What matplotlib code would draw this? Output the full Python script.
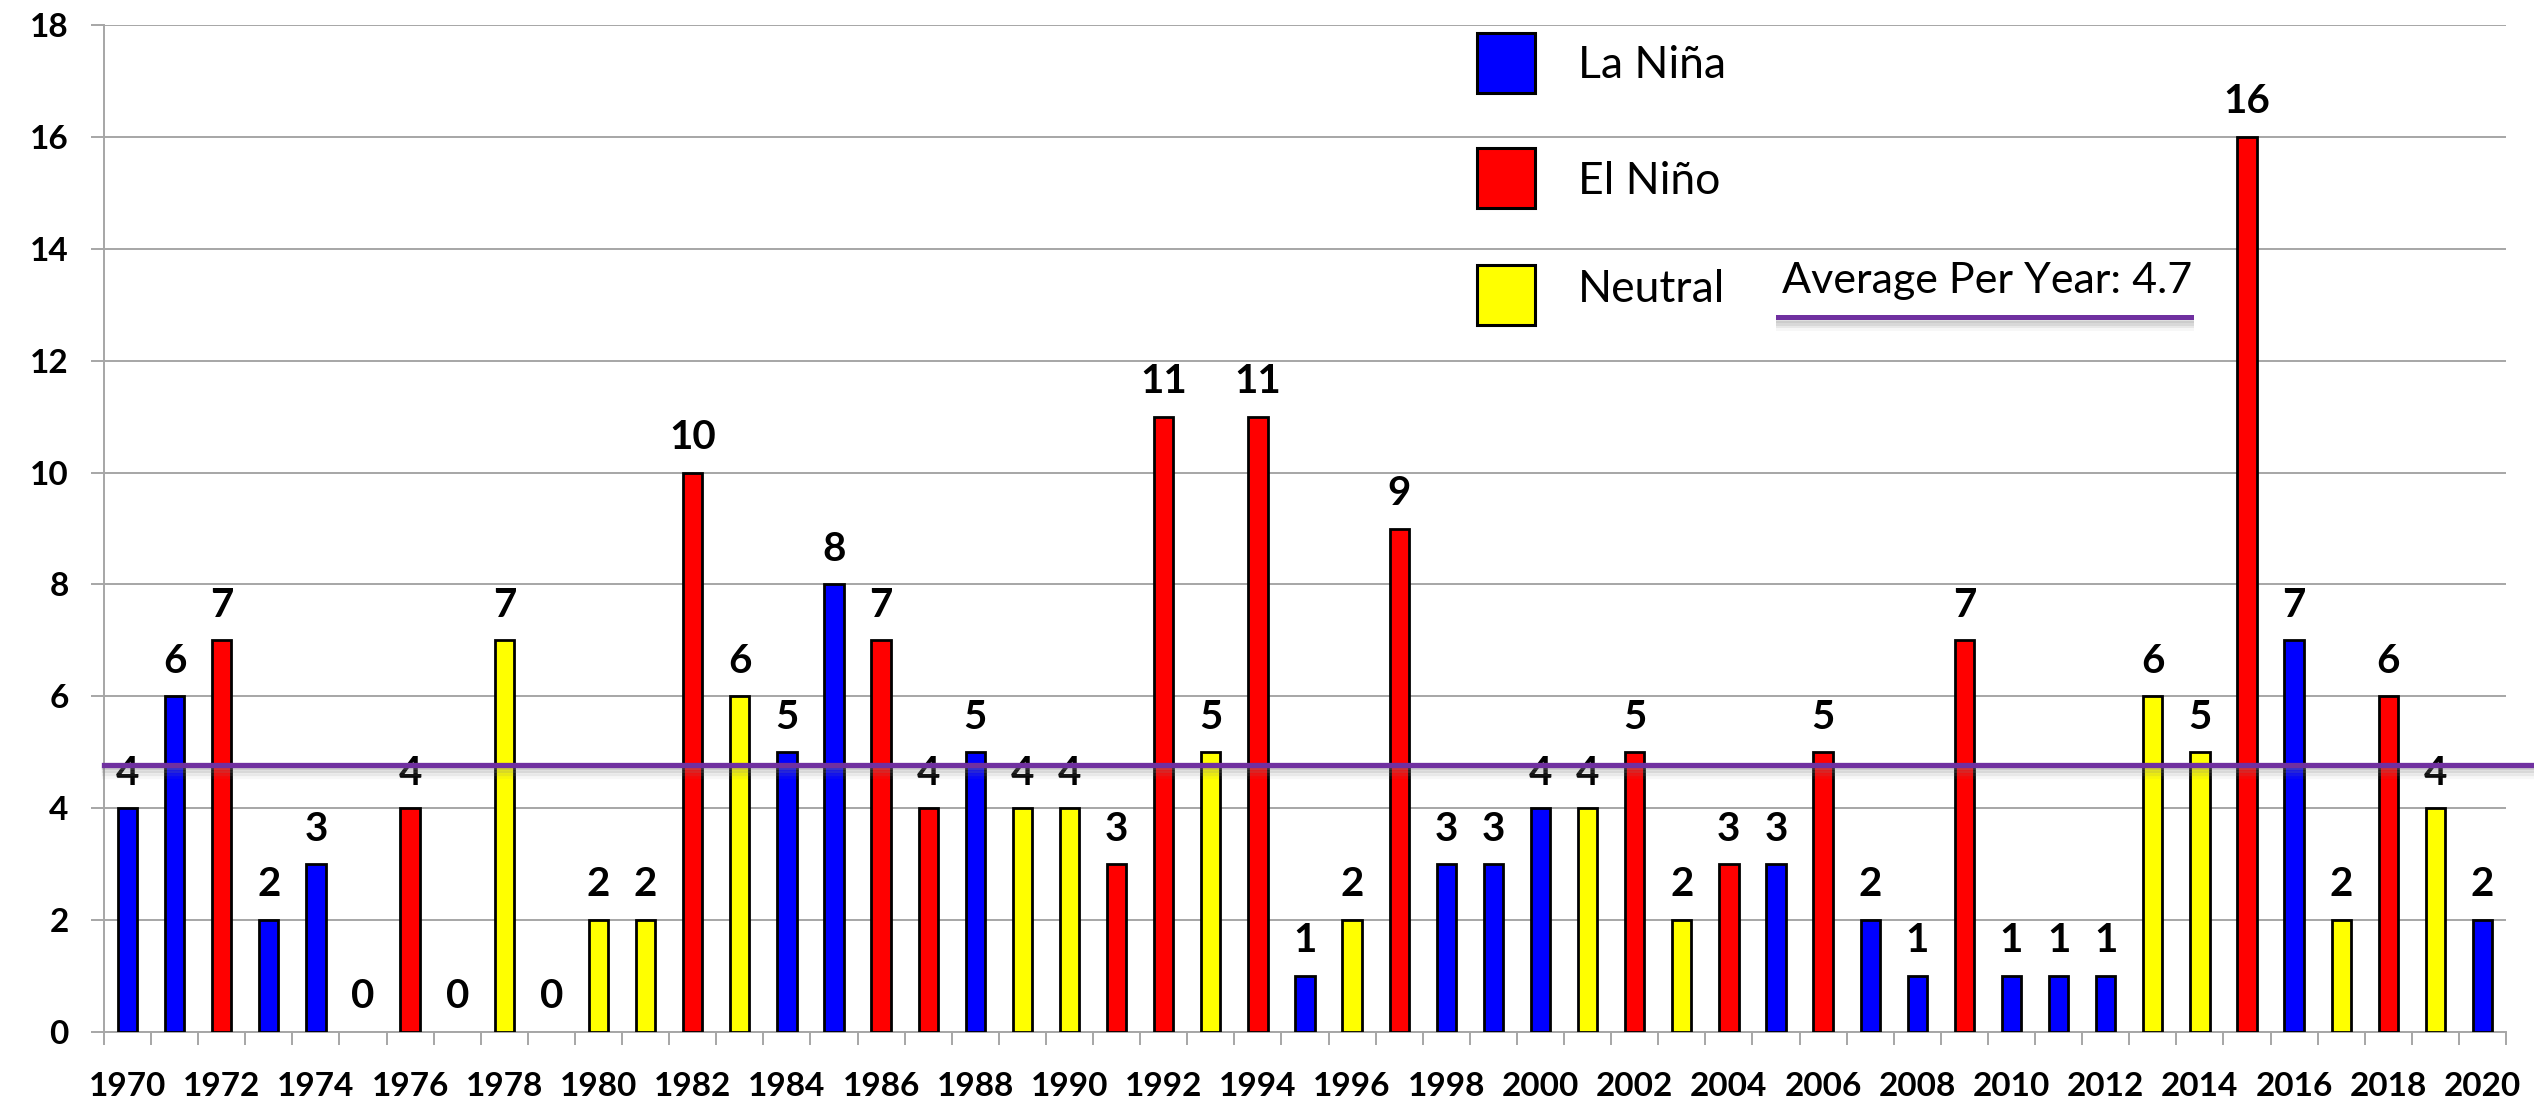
import matplotlib
matplotlib.use("Agg")
import matplotlib.pyplot as plt
import matplotlib.patheffects as pe
from matplotlib.patches import Rectangle
from matplotlib.lines import Line2D
import numpy as np

# ---------------- data ----------------
years = list(range(1970, 2021))
counts = [4, 6, 7, 2, 3, 0, 4, 0, 7, 0,
          2, 2, 10, 6, 5, 8, 7, 4, 5, 4,
          4, 3, 11, 5, 11, 1, 2, 9, 3, 3,
          4, 4, 5, 2, 3, 3, 5, 2, 1, 7,
          1, 1, 1, 6, 5, 16, 7, 2, 6, 4,
          2]
phases = ["La Niña", "La Niña", "El Niño", "La Niña", "La Niña", "Neutral", "El Niño", "Neutral", "Neutral", "Neutral",
          "Neutral", "Neutral", "El Niño", "Neutral", "La Niña", "La Niña", "El Niño", "El Niño", "La Niña", "Neutral",
          "Neutral", "El Niño", "El Niño", "Neutral", "El Niño", "La Niña", "Neutral", "El Niño", "La Niña", "La Niña",
          "La Niña", "Neutral", "El Niño", "Neutral", "El Niño", "La Niña", "El Niño", "La Niña", "La Niña", "El Niño",
          "La Niña", "La Niña", "La Niña", "Neutral", "Neutral", "El Niño", "La Niña", "Neutral", "El Niño", "Neutral",
          "La Niña"]
legend_labels = ["La Niña", "El Niño", "Neutral"]
phase_colors = ["#0000FF", "#FF0000", "#FFFF00"]
average_line_value = 4.78
average_label = "Average Per Year: 4.7"
y_ticks = list(range(0, 19, 2))

# ---------------- style ----------------
plt.rcParams["font.family"] = ["Lato", "DejaVu Sans"]
W, H = 2534, 1099
GRID = "#A6A6A6"
PURPLE = "#7030A0"

fig = plt.figure(figsize=(W / 100, H / 100), dpi=100)
ax = fig.add_axes([104 / W, 67 / H, 2402 / W, 1007 / H])

cmap = dict(zip(legend_labels, phase_colors))
x = np.arange(len(years))
bar_colors = [cmap[p] for p in phases]
edge_colors = ["black" if v > 0 else "none" for v in counts]
ax.bar(x, counts, width=0.41, color=bar_colors, edgecolor=edge_colors,
       linewidth=2.0, zorder=3)

for xi, v in zip(x, counts):
    ax.annotate(str(v), (xi, v), xytext=(0, 17), textcoords="offset points",
                ha="center", va="baseline", fontsize=29, fontweight="bold",
                zorder=4)

ax.set_xlim(-0.5, len(years) - 0.5)
ax.set_ylim(0, 18)
ax.set_yticks(y_ticks)
ax.set_yticklabels([str(t) for t in y_ticks], fontsize=24, fontweight="bold")
ax.yaxis.grid(True, color=GRID, linewidth=1.4, zorder=0)
ax.set_axisbelow(True)
for s in ["top", "right"]:
    ax.spines[s].set_visible(False)
for s in ["left", "bottom"]:
    ax.spines[s].set_color(GRID)
    ax.spines[s].set_linewidth(1.4)

ax.tick_params(axis="y", length=9.5, width=1.4, color=GRID, pad=16)
ax.set_xticks(x[::2])
ax.set_xticklabels([str(y) for y in years[::2]], fontsize=24, fontweight="bold")
ax.set_xticks(np.arange(-0.5, len(years), 1.0), minor=True)
ax.tick_params(axis="x", which="major", length=0, pad=29)
ax.tick_params(axis="x", which="minor", length=9, width=1.4, color=GRID)

# average line with soft shadow
shadow = [pe.SimpleLineShadow(offset=(0, -o), shadow_color="#808080", alpha=a)
          for o, a in [(2, 0.25), (4, 0.2), (6, 0.12), (8, 0.06)]] + [pe.Normal()]
trans = matplotlib.transforms.blended_transform_factory(ax.transAxes, ax.transData)
avg = Line2D([0, (W - 104) / 2402], [average_line_value, average_line_value],
             transform=trans, color=PURPLE, linewidth=3.8, zorder=6,
             clip_on=False, path_effects=shadow)
ax.add_line(avg)

# ---------------- manual legend ----------------
def fx(px):
    return px / W

def fy(py):
    return 1 - py / H

patch_tops = [33, 148, 265]
text_centers = [66, 182, 290]
for top, yc, lab, col in zip(patch_tops, text_centers, legend_labels, phase_colors):
    fig.patches.append(Rectangle((fx(1477), fy(top + 60)), 58 / W, 60 / H,
                                 transform=fig.transFigure, facecolor=col,
                                 edgecolor="black", linewidth=2.2))
    fig.text(fx(1578), fy(yc), lab, fontsize=32, ha="left", va="center")

fig.text(fx(1782), fy(293), average_label, fontsize=31, ha="left", va="baseline")
fig.lines.append(Line2D([fx(1778), fx(2191)], [fy(317), fy(317)],
                        transform=fig.transFigure, color=PURPLE, linewidth=3.6,
                        path_effects=shadow))

fig.savefig("out.png", dpi=100, facecolor="white")
